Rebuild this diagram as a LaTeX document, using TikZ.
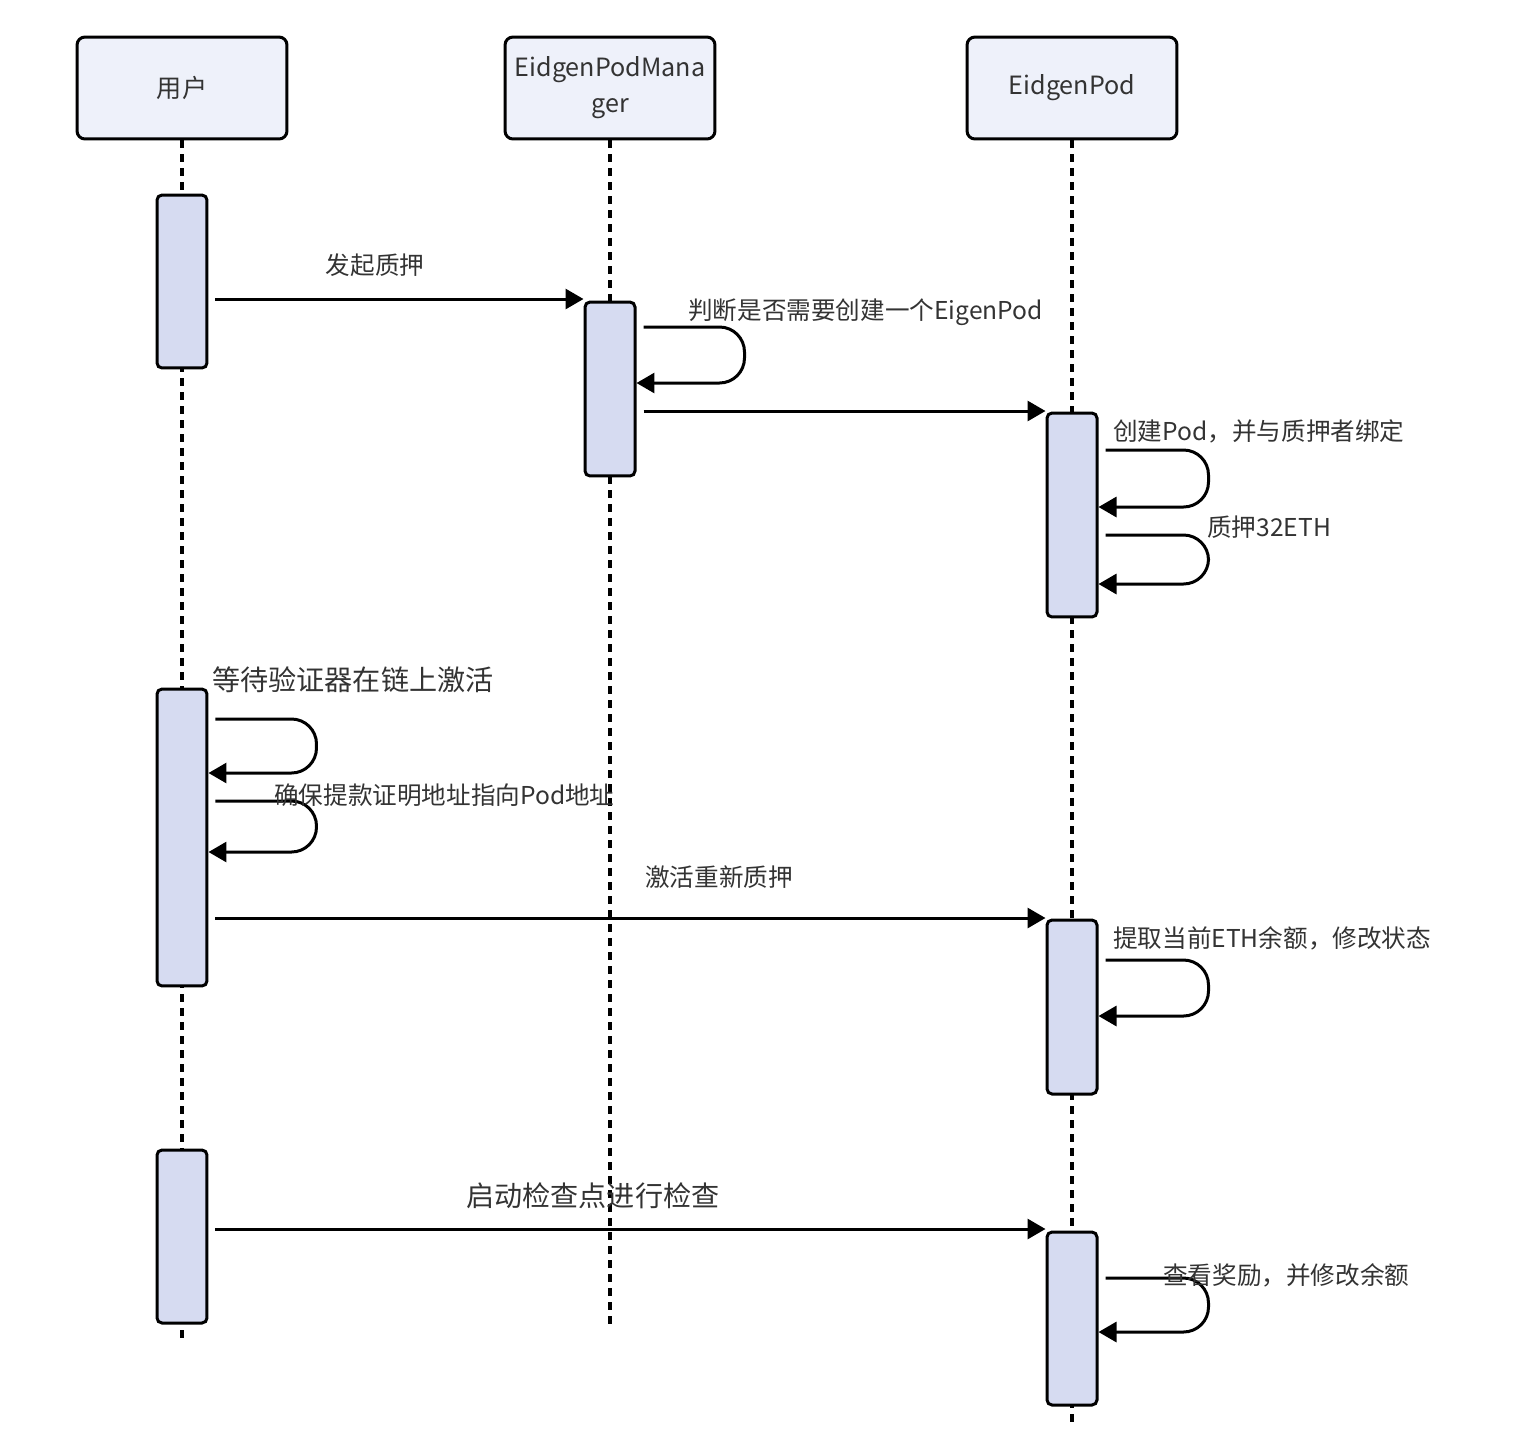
\documentclass[tikz,border=0pt]{standalone}
\usepackage{fontspec}
\setmainfont{Noto Sans CJK SC}
\usetikzlibrary{arrows.meta,positioning}
\definecolor{headFill}{RGB}{238,241,250}
\definecolor{actFill}{RGB}{214,219,241}
\definecolor{labelGray}{RGB}{51,51,51}
\tikzset{
	head/.style={
		draw,
		line width=0.06cm,
		rounded corners=0.16cm,
		fill=headFill,
		minimum width=4.2cm,
		minimum height=2.04cm,
		align=center,
		text=labelGray,
		font=\fontsize{14.3pt}{20.5pt}\selectfont,
	},
	act/.style={
		draw,
		line width=0.06cm,
		rounded corners=0.1cm,
		fill=actFill,
		minimum width=1cm,
		inner sep=0pt,
	},
	lifeline/.style={
		line width=0.075cm,
		dash pattern=on 0.16cm off 0.12cm,
	},
	msg/.style={
		-{Triangle[length=0.36cm,width=0.4cm]},
		line width=0.06cm,
		shorten <=0.14cm,
	},
	selfmsg/.style={msg, rounded corners=0.5cm},
	lbl/.style={text=labelGray, inner sep=0pt, font=\fontsize{14pt}{17pt}\selectfont},
	biglbl/.style={lbl, font=\fontsize{16pt}{19pt}\selectfont},
}

\begin{document}
\begin{tikzpicture}[x=0.02cm, y=-0.02cm]
	\useasboundingbox (0,0) rectangle (1528,1428);

	% --- Participants ---
	\node[head] (user) at (182,88) {用户};
	\node[head] (manager) at (610,88) {EidgenPodMana\\ger};
	\node[head] (pod) at (1072,88) {EidgenPod};

	% --- Lifelines ---
	\coordinate (userend) at (182,1340);
	\coordinate (managerend) at (610,1328);
	\coordinate (podend) at (1072,1428);
	\draw[lifeline] (user.south) -- (userend);
	\draw[lifeline] (manager.south) -- (managerend);
	\draw[lifeline] (pod.south) -- (podend);

	% --- Activations ---
	\node[act, minimum height=3.46cm] (ua1) at (182,281.5) {};
	\node[act, minimum height=3.48cm] (ma1) at (610,389) {};
	\node[act, minimum height=4.08cm] (pa1) at (1072,515) {};
	\node[act, minimum height=5.94cm] (ua2) at (182,837.5) {};
	\node[act, minimum height=3.48cm] (pa2) at (1072,1007) {};
	\node[act, minimum height=3.46cm] (ua3) at (182,1236.5) {};
	\node[act, minimum height=3.46cm] (pa3) at (1072,1318.5) {};

	% --- Messages ---
	\draw[msg] (ua1.east |- 0,299) -- (ma1.west |- 0,299);
	\node[lbl] (stake) at (375,265) {发起质押};

	\draw[selfmsg] (ma1.east |- 0,327) -- ++(108,0) |- (ma1.east |- 0,383);
	\node[lbl, anchor=west] (check) at (688,312) {判断是否需要创建一个EigenPod};

	\draw[msg] (ma1.east |- 0,411) -- (pa1.west |- 0,411);

	\draw[selfmsg] (pa1.east |- 0,450) -- ++(110,0) |- (pa1.east |- 0,507);
	\node[lbl, anchor=west] (create) at (1113,431) {创建Pod，并与质押者绑定};

	\draw[selfmsg] (pa1.east |- 0,535) -- ++(110,0) |- (pa1.east |- 0,584);
	\node[lbl, anchor=west] (deposit) at (1207,527) {质押32ETH};

	% user prepares the validator
	\draw[selfmsg] (ua2.east |- 0,719) -- ++(108,0) |- (ua2.east |- 0,773);
	\node[biglbl, anchor=west] (wait) at (212,680) {等待验证器在链上激活};

	\draw[selfmsg] (ua2.east |- 0,801) -- ++(108,0) |- (ua2.east |- 0,852);
	\node[lbl, anchor=west] (ensure) at (274,795) {确保提款证明地址指向Pod地址};

	\draw[msg] (ua2.east |- 0,918) -- (pa2.west |- 0,918);
	\node[lbl, anchor=west] (restake) at (645,877) {激活重新质押};

	\draw[selfmsg] (pa2.east |- 0,960) -- ++(110,0) |- (pa2.east |- 0,1016);
	\node[lbl, anchor=west] (withdraw) at (1113,938) {提取当前ETH余额，修改状态};

	% checkpoint
	\draw[msg] (ua3.east |- 0,1229) -- (pa3.west |- 0,1229);
	\node[biglbl, anchor=west] (startcp) at (466,1196) {启动检查点进行检查};

	\draw[selfmsg] (pa3.east |- 0,1278) -- ++(110,0) |- (pa3.east |- 0,1332);
	\node[lbl, anchor=west] (reward) at (1163,1275) {查看奖励，并修改余额};
\end{tikzpicture}
\end{document}
